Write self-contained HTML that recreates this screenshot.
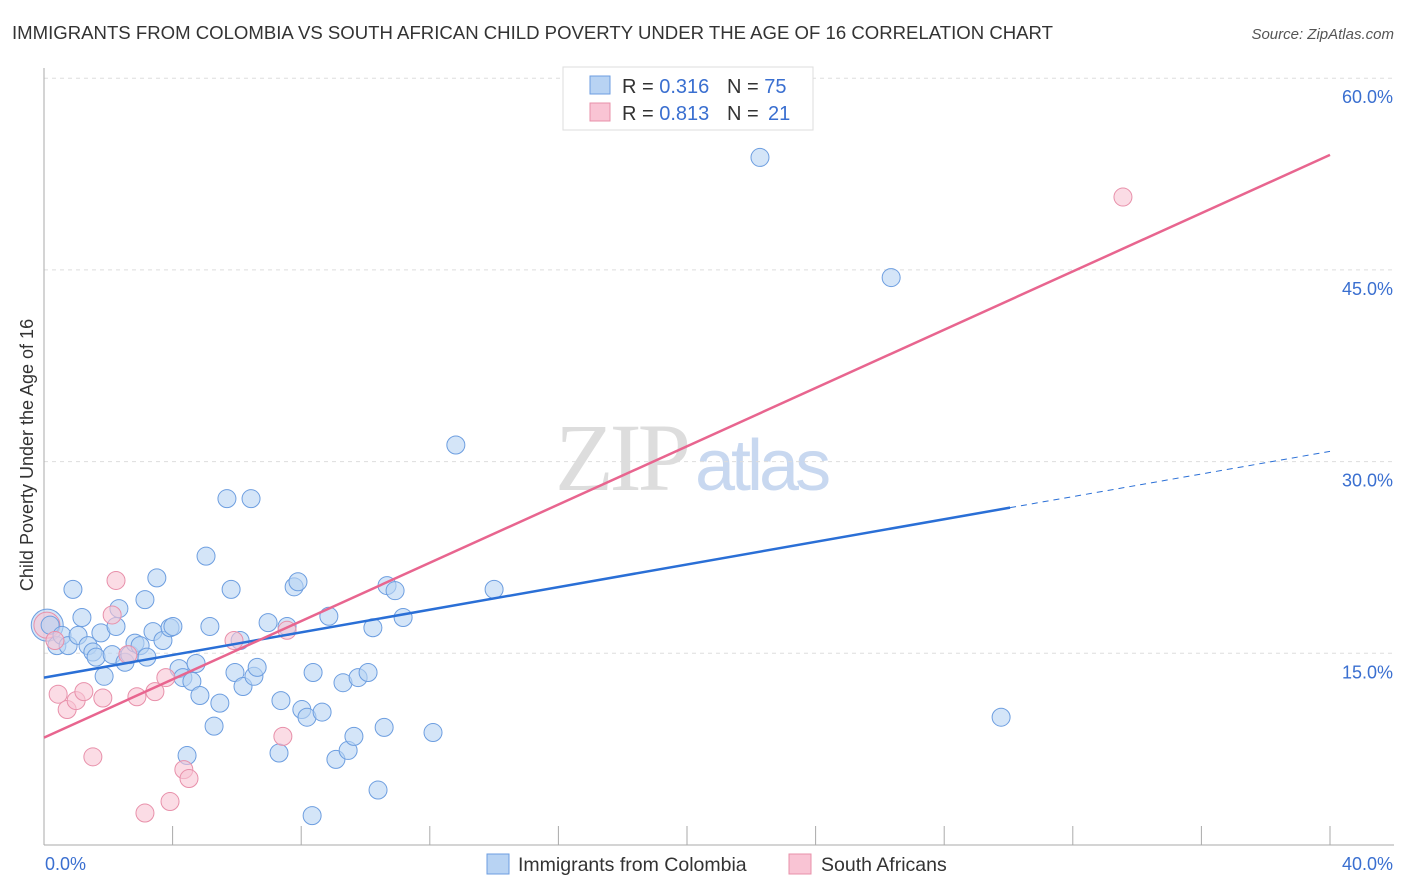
<!DOCTYPE html>
<html><head><meta charset="utf-8"><style>
body{margin:0;background:#fff;font-family:"Liberation Sans",sans-serif}
svg{display:block}
</style></head><body>
<svg id="chart" width="1406" height="892" viewBox="0 0 1406 892" xmlns="http://www.w3.org/2000/svg">
<text x="12" y="39" font-size="18" fill="#333" textLength="1041" lengthAdjust="spacingAndGlyphs">IMMIGRANTS FROM COLOMBIA VS SOUTH AFRICAN CHILD POVERTY UNDER THE AGE OF 16 CORRELATION CHART</text>
<text x="1394" y="39" font-size="15" fill="#555" text-anchor="end" font-style="italic">Source: ZipAtlas.com</text>
<text x="555" y="490" font-size="96" fill="#ddd" font-family="Liberation Serif" letter-spacing="-4">ZIP<tspan dx="8" fill="#c8d8f0" font-family="Liberation Sans" font-size="72">atlas</tspan></text>
<g id="grid"></g>
<g id="axes"></g>
<g id="marks"></g>
<text transform="translate(33,455) rotate(-90)" font-size="18" fill="#333" text-anchor="middle">Child Poverty Under the Age of 16</text>
<g>
<rect x="563" y="67" width="250" height="63" fill="#fff" stroke="#ddd"/>
<rect x="590" y="76" width="20" height="18" fill="#b8d3f3" stroke="#6d9ee0"/>
<rect x="590" y="103" width="20" height="18" fill="#f9c4d4" stroke="#e890aa"/>
<text x="622" y="93" font-size="20" fill="#333">R = <tspan fill="#3a6fd0">0.316</tspan><tspan x="727">N = </tspan><tspan fill="#3a6fd0">75</tspan></text>
<text x="622" y="120" font-size="20" fill="#333">R = <tspan fill="#3a6fd0">0.813</tspan><tspan x="727">N = </tspan><tspan x="768" fill="#3a6fd0">21</tspan></text>
</g>
<g>
<rect x="487" y="854" width="22" height="20" fill="#b8d3f3" stroke="#6d9ee0"/>
<text x="518" y="871" font-size="19.5" fill="#333">Immigrants from Colombia</text>
<rect x="789" y="854" width="22" height="20" fill="#f9c4d4" stroke="#e890aa"/>
<text x="821" y="871" font-size="19.5" fill="#333">South Africans</text>
</g>
</svg>
<script>
const blueX=[0.19,0.4,0.56,0.75,0.9,1.06,1.18,1.37,1.52,1.62,1.77,1.87,2.12,2.24,2.33,2.52,2.67,2.83,2.99,3.14,3.2,3.39,3.51,3.7,3.92,4.01,4.2,4.32,4.45,4.6,4.73,4.85,5.04,5.16,5.29,5.47,5.69,5.82,5.94,6.1,6.19,6.44,6.53,6.63,6.97,7.37,7.31,7.56,7.78,7.9,8.02,8.18,8.34,8.37,8.65,8.86,9.08,9.3,9.46,9.64,9.77,10.08,10.23,10.39,10.58,10.67,10.92,11.17,12.1,12.81,14.0,22.27,26.35,29.77];
const blueY=[17.2,15.6,16.4,15.6,20.0,16.4,17.8,15.6,15.1,14.7,16.6,13.2,14.9,17.1,18.5,14.3,14.9,15.8,15.6,19.2,14.7,16.7,20.9,16.0,17.0,17.1,13.8,13.1,7.0,12.8,14.2,11.7,22.6,17.1,9.3,11.1,27.1,20.0,13.5,16.0,12.4,27.1,13.2,13.9,17.4,11.3,7.2,17.1,20.2,20.6,10.6,10.0,2.3,13.5,10.4,17.9,6.7,12.7,7.4,8.5,13.1,13.5,17.0,4.3,9.2,20.3,19.9,17.8,8.8,31.3,20.0,53.8,44.4,10.0];
const pinkX=[0.34,0.44,0.72,1.0,1.24,1.52,1.83,2.12,2.24,2.61,2.89,3.14,3.45,3.79,3.92,4.35,4.51,5.91,7.43,7.56,33.56];
const pinkY=[16.0,11.8,10.6,11.3,12.0,6.9,11.5,18.0,20.7,14.9,11.6,2.5,12.0,13.1,3.4,5.9,5.2,16.0,8.5,16.8,50.7];
const yTicks=[15,30,45,60];
const yTickLabels=["15.0%","30.0%","45.0%","60.0%"];
const xTicks=[0,4,8,12,16,20,24,28,32,36,40];
const blueTrend=[13.1,30.8], pinkTrend=[8.4,54.0];
const X=v=>44+v*32.15, Y=v=>845-v*12.78;
const NS="http://www.w3.org/2000/svg";
function mk(p,t,a){const e=document.createElementNS(NS,t);for(const k in a)e.setAttribute(k,a[k]);p.appendChild(e);return e;}
const grid=document.getElementById('grid'),axes=document.getElementById('axes'),marks=document.getElementById('marks');
yTicks.forEach((t,i)=>{
 const l=mk(grid,'line',{x1:44,x2:1394,y1:Y(t),y2:Y(t),stroke:'#ddd','stroke-dasharray':'4,4'});
 
 
 const tx=mk(axes,'text',{x:1393,y:Y(t)+25,'font-size':18,fill:'#3a6fd0','text-anchor':'end'});
 tx.textContent=yTickLabels[i];
 
 
});
mk(axes,'line',{x1:44,x2:44,y1:68,y2:845,stroke:'#aaa'});
mk(axes,'line',{x1:44,x2:1394,y1:845,y2:845,stroke:'#aaa'});
xTicks.slice(1).forEach(t=>{
 const l=mk(axes,'line',{x1:X(t),x2:X(t),y1:826,y2:845,stroke:'#aaa'});
 
 
});
let t0=mk(axes,'text',{x:45,y:870,'font-size':18,fill:'#3a6fd0'});t0.textContent='0.0%';
let t1=mk(axes,'text',{x:1393,y:870,'font-size':18,fill:'#3a6fd0','text-anchor':'end'});t1.textContent='40.0%';
const b1=mk(marks,'circle',{cx:X(0.1),cy:Y(17.2),r:16,fill:'#b8d3f3','fill-opacity':0.6,stroke:'#6d9ee0'});


const b2=mk(marks,'circle',{cx:X(0.09),cy:Y(17.2),r:13,fill:'#f9c4d4','fill-opacity':0.6,stroke:'#e890aa'});


blueX.forEach((x,i)=>{
 const c=mk(marks,'circle',{cx:X(x),cy:Y(blueY[i]),r:9,fill:'#b8d3f3','fill-opacity':0.6,stroke:'#6d9ee0','stroke-width':1});
 
 
});
pinkX.forEach((x,i)=>{
 const c=mk(marks,'circle',{cx:X(x),cy:Y(pinkY[i]),r:9,fill:'#f9c4d4','fill-opacity':0.6,stroke:'#e890aa','stroke-width':1});
 
 
});
const bAt=v=>blueTrend[0]+(blueTrend[1]-blueTrend[0])*v/40;
let l1=mk(marks,'line',{x1:X(0),y1:Y(bAt(0)),x2:X(30.05),y2:Y(bAt(30.05)),stroke:'#2a6fd6','stroke-width':2.5});


let l2=mk(marks,'line',{x1:X(30.05),y1:Y(bAt(30.05)),x2:X(40),y2:Y(bAt(40)),stroke:'#2a6fd6','stroke-width':1,'stroke-dasharray':'6,5'});


let l3=mk(marks,'line',{x1:X(0),y1:Y(pinkTrend[0]),x2:X(40),y2:Y(pinkTrend[1]),stroke:'#e8658f','stroke-width':2.5});


</script>
</body></html>
